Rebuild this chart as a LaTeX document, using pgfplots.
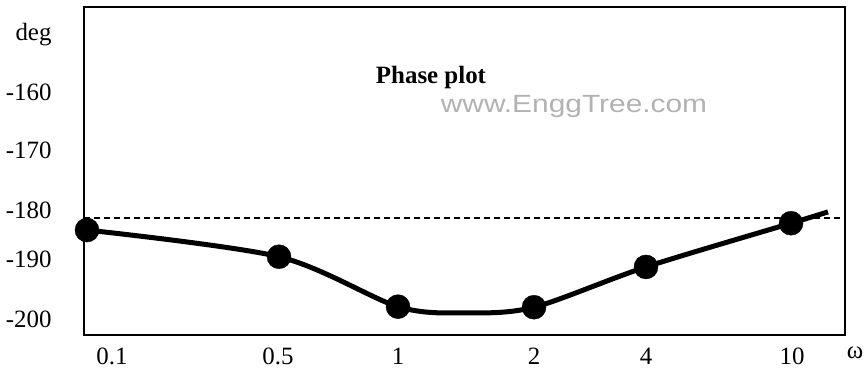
\documentclass[border=0pt]{standalone}
\usepackage{pgfplots}
\pgfplotsset{compat=1.18}
\usepackage{fontspec}
\setmainfont{Liberation Serif}
\newfontfamily\wmfont{Liberation Sans}

\begin{document}
\fontsize{25}{29}\selectfont
\begin{tikzpicture}
    \begin{axis}[
            scale only axis,
            width=761bp, height=328bp,
            xmin=84, xmax=845,
            ymin=-202.3, ymax=-144.5,
            clip=false,
            axis line style={line width=1.5bp},
            major tick length=0pt,
            typeset ticklabels with strut,
            xtick={112,278,398,534,646,792},
            xticklabels={0.1,0.5,1,2,4,10},
            ytick={-200,-189.4,-180.8,-170.2,-160,-149.4},
            yticklabels={-200,-190,-180,-170,-160,deg},
            yticklabel style={anchor=east, xshift=-24bp},
            xticklabel style={yshift=-1bp},
        ]
        % reference line
        \addplot[line width=1.5bp, dash pattern=on 6bp off 4bp] coordinates {(84,-181.7) (845,-181.7)};

        % phase curve
        \addplot[line width=5bp, smooth] coordinates {
            (87,-183.8) (279,-188.5) (398,-197.3) (466,-198.4)
            (534,-197.4) (646,-190.3) (791,-182.6) (828,-180.6)};

        % measured points
        \addplot[only marks, mark=*, mark size=12bp, black] coordinates {
            (87,-183.8) (279,-188.5) (398,-197.3) (534,-197.4) (646,-190.3) (791,-182.6)};

        \node[font=\bfseries] at (axis cs:431,-157.0) {Phase plot};
        \node[text=black!30] at (axis cs:574,-162.1) {\scalebox{1.2}[1]{\wmfont www.EnggTree.com}};
        \node[anchor=base] at (axis cs:855,-206.5) {ω};

        \coordinate (bl) at (axis cs:0,-209.5);
        \coordinate (tr) at (axis cs:864,-143.26);
    \end{axis}
    \pgfresetboundingbox
    \useasboundingbox (bl) rectangle (tr);
\end{tikzpicture}
\end{document}
